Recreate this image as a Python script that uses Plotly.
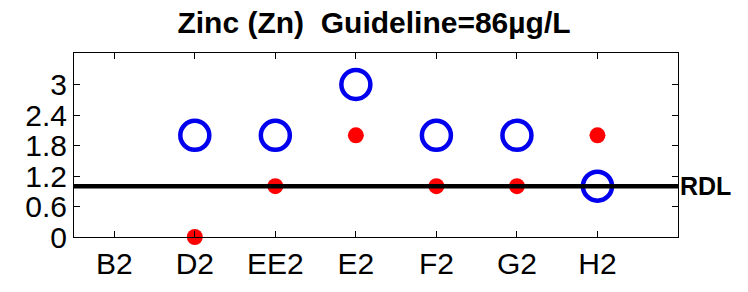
import plotly.graph_objects as go

categories = ["B2", "D2", "EE2", "E2", "F2", "G2", "H2"]
blue_values = [None, 2, 2, 3, 2, 2, 1]
red_values = [None, 0, 1, 2, 1, 1, 2]
rdl_value = 1
yticks = [0, 0.6, 1.2, 1.8, 2.4, 3]

xpos = list(range(1, len(categories) + 1))
FONT = "Liberation Sans, Arial"

fig = go.Figure()
fig.add_trace(go.Scatter(
    x=xpos, y=red_values, mode="markers",
    marker=dict(symbol="circle", size=16, color="#ff0000", line=dict(width=0)),
    showlegend=False, cliponaxis=False, hoverinfo="skip"))
fig.add_trace(go.Scatter(
    x=xpos, y=blue_values, mode="markers",
    marker=dict(symbol="circle-open", size=29, color="#0000ee", line=dict(width=4.5)),
    showlegend=False, cliponaxis=False, hoverinfo="skip"))
fig.add_shape(type="line", xref="paper", x0=0, x1=1, yref="y", y0=rdl_value, y1=rdl_value,
              line=dict(color="black", width=4.5))
fig.add_annotation(text="<b>RDL</b>", xref="paper", x=1.0, xanchor="left", xshift=0,
                   yref="y", y=rdl_value, showarrow=False,
                   font=dict(family=FONT, size=25, color="black"))

axis_common = dict(showline=True, linecolor="black", linewidth=1, mirror="ticks",
                   ticks="inside", ticklen=6, tickcolor="black", showgrid=False,
                   zeroline=False,
                   tickfont=dict(family=FONT, size=30, color="black"))
fig.update_xaxes(range=[0.5, 8], tickvals=xpos, ticktext=categories, **axis_common)
fig.update_yaxes(range=[0, 3.62], tickvals=yticks, ticktext=[str(v) for v in yticks], **axis_common)

fig.update_layout(
    width=748, height=292,
    margin=dict(l=74, r=70, t=53, b=49),
    plot_bgcolor="white", paper_bgcolor="white",
    title=dict(text="<b>Zinc (Zn)  Guideline=86µg/L</b>", x=0.5, xanchor="center",
               y=1 - 22/292, yanchor="middle",
               font=dict(family=FONT, size=30, color="black")),
)
fig.write_html("out.html", config={"displayModeBar": False},
               post_script="document.body.style.margin='0px';")
